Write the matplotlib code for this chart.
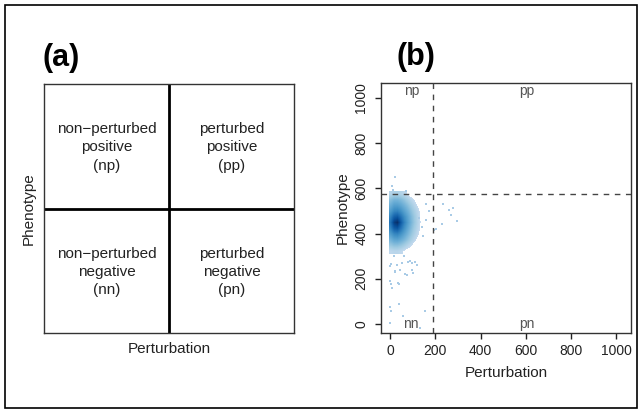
import numpy as np
import matplotlib
matplotlib.use("Agg")
import matplotlib.pyplot as plt
from matplotlib.colors import LinearSegmentedColormap
from matplotlib.patches import Rectangle

plt.rcParams['font.family'] = ['Liberation Sans', 'DejaVu Sans']

# ---------------- data ----------------
panel_labels = ["(a)", "(b)"]
quadrant_texts = {
    "np": "non\u2212perturbed\npositive\n(np)",
    "pp": "perturbed\npositive\n(pp)",
    "nn": "non\u2212perturbed\nnegative\n(nn)",
    "pn": "perturbed\nnegative\n(pn)",
}
x_label = "Perturbation"
y_label = "Phenotype"

ticks = [0, 200, 400, 600, 800, 1000]
perturb_threshold = 189
phenotype_threshold = 575

quad_names = ["np", "pp", "nn", "pn"]
quad_x = [93, 605, 93, 605]
quad_y = [1030, 1030, 0, 0]

# density grid of the main cloud (visual intensity, 0..1)
grid_x = [0, 15, 30, 45, 60, 75, 90, 105, 120, 135]
grid_y = [570, 545, 520, 495, 470, 445, 420, 395, 370, 345, 320]  # top -> bottom
density = [
    [0.14, 0.17, 0.17, 0.15, 0.11, 0.06, 0.00, 0.00, 0.00, 0.00],
    [0.28, 0.34, 0.34, 0.31, 0.26, 0.19, 0.12, 0.06, 0.00, 0.00],
    [0.38, 0.46, 0.46, 0.42, 0.36, 0.29, 0.21, 0.13, 0.06, 0.00],
    [0.48, 0.58, 0.60, 0.54, 0.45, 0.37, 0.28, 0.19, 0.11, 0.03],
    [0.60, 0.76, 0.80, 0.68, 0.55, 0.44, 0.33, 0.23, 0.13, 0.05],
    [0.68, 0.93, 1.00, 0.80, 0.61, 0.47, 0.35, 0.24, 0.14, 0.05],
    [0.60, 0.78, 0.82, 0.68, 0.54, 0.42, 0.31, 0.21, 0.12, 0.04],
    [0.48, 0.58, 0.60, 0.53, 0.44, 0.35, 0.26, 0.17, 0.09, 0.02],
    [0.36, 0.43, 0.44, 0.40, 0.34, 0.27, 0.19, 0.11, 0.04, 0.00],
    [0.24, 0.28, 0.28, 0.25, 0.20, 0.14, 0.08, 0.02, 0.00, 0.00],
    [0.10, 0.12, 0.12, 0.10, 0.06, 0.02, 0.00, 0.00, 0.00, 0.00],
]

# sparse outlying cells
out_x = [19, 7, 12, 69, 159, 233, 261, 280, 268, 295, 229, 203, 195, 159, 170,
         15, 0, 22, 88, 96, 74, 44, 0, 7, 37, 3, 0, 5, 37, 56, 152, 0, 130,
         21, 65, 100, 34, 9, 2, 30, 52, 78, 95, 110, 118, 60, 140, 128, 145]
out_y = [649, 609, 591, 587, 531, 532, 506, 513, 480, 454, 444, 422, 417, 461, 500,
         299, 255, 233, 277, 240, 215, 240, 189, 159, 178, 175, 74, 56, 88, 37, 56, 4, -19,
         230, 221, 225, 181, 157, 265, 262, 268, 275, 270, 272, 262, 300, 430, 470, 390]

# ---------------- figure ----------------
fig = plt.figure(figsize=(6.4, 4.09), dpi=100)
W, H = 640, 409

def axrect(l, t, r, b):
    return [l / W, 1 - b / H, (r - l) / W, (b - t) / H]

# ---------- panel (a) ----------
axa = fig.add_axes(axrect(44, 84, 294, 333))
axa.set_xlim(0, 2)
axa.set_ylim(0, 2)
axa.set_xticks([])
axa.set_yticks([])
for s in axa.spines.values():
    s.set_color('#333333')
    s.set_linewidth(1.0)
axa.axvline(1, color='black', lw=2)
axa.axhline(1, color='black', lw=2)
cell_pos = {"np": (0.5, 1.5), "pp": (1.5, 1.5), "nn": (0.5, 0.5), "pn": (1.5, 0.5)}
for k in quad_names:
    cx, cy = cell_pos[k]
    axa.text(cx, cy - 0.01, quadrant_texts[k], ha='center', va='center',
             fontsize=11, color='#222222', linespacing=1.38)
axa.set_xlabel(x_label, fontsize=11, color='#222222')
axa.xaxis.label.set_va('center')
axa.xaxis.set_label_coords(0.5, -(349 - 333) / 249)
axa.set_ylabel(y_label, fontsize=11, color='#222222')
axa.yaxis.label.set_va('center')
axa.yaxis.set_label_coords((28.5 - 44) / 250, 0.5)

# ---------- panel (b) ----------
axb = fig.add_axes(axrect(381, 83, 631, 333))
axb.set_xlim(-41, 1066)
axb.set_ylim(-40, 1066)

cmap = LinearSegmentedColormap.from_list(
    'blues', ['#C6DBEF', '#9ECAE1', '#6BAED6', '#4292C6', '#2171B5', '#08519C', '#08306B'])
cmap.set_under((1, 1, 1, 0))
dx = grid_x[1] - grid_x[0]
dy = grid_y[0] - grid_y[1]
extent = (grid_x[0] - dx / 2, grid_x[-1] + dx / 2, grid_y[-1] - dy / 2, grid_y[0] + dy / 2)
axb.imshow(np.array(density), cmap=cmap, vmin=0.07, vmax=1.0, extent=extent,
           origin='upper', aspect='auto', interpolation='bilinear',
           interpolation_stage='data', zorder=1)
axb.scatter(out_x, out_y, s=3, marker='s', color='#A9CBE6', linewidths=0, zorder=2)

axb.axvline(perturb_threshold, color='#444444', lw=1, ls=(0, (4, 4)), zorder=3)
axb.axhline(phenotype_threshold, color='#444444', lw=1, ls=(0, (4, 4)), zorder=3)
for n, qx, qy in zip(quad_names, quad_x, quad_y):
    axb.text(qx, qy, n, ha='center', va='center', fontsize=10, color='#555555', zorder=4)

axb.set_xticks(ticks)
axb.set_yticks(ticks)
axb.set_xticklabels([str(t) for t in ticks])
axb.set_yticklabels([str(t) for t in ticks])
axb.tick_params(axis='both', length=4, width=1, color='#222222', labelsize=10,
                labelcolor='#222222', pad=4)
axb.tick_params(axis='y', labelrotation=90, pad=5)
for lab in axb.get_yticklabels():
    lab.set_va('center')
for s in axb.spines.values():
    s.set_color('#333333')
    s.set_linewidth(1.0)

axb.set_xlabel(x_label, fontsize=11, color='#222222')
axb.xaxis.label.set_va('center')
axb.xaxis.set_label_coords(0.5, -(373 - 333) / 250)
axb.set_ylabel(y_label, fontsize=11, color='#222222')
axb.yaxis.label.set_va('center')
axb.yaxis.set_label_coords((343 - 381) / 250, 0.5)

# panel labels
fig.text(42 / W, 1 - 58 / H, panel_labels[0], fontsize=22, fontweight='bold',
         ha='left', va='center')
fig.text(397 / W, 1 - 57 / H, panel_labels[1], fontsize=22, fontweight='bold',
         ha='left', va='center')

# outer frame
fig.add_artist(Rectangle((5 / W, 1 / H), 632 / W, 403 / H, transform=fig.transFigure,
                         fill=False, lw=1.2, ec='black'))

fig.savefig("out.png", dpi=100)
